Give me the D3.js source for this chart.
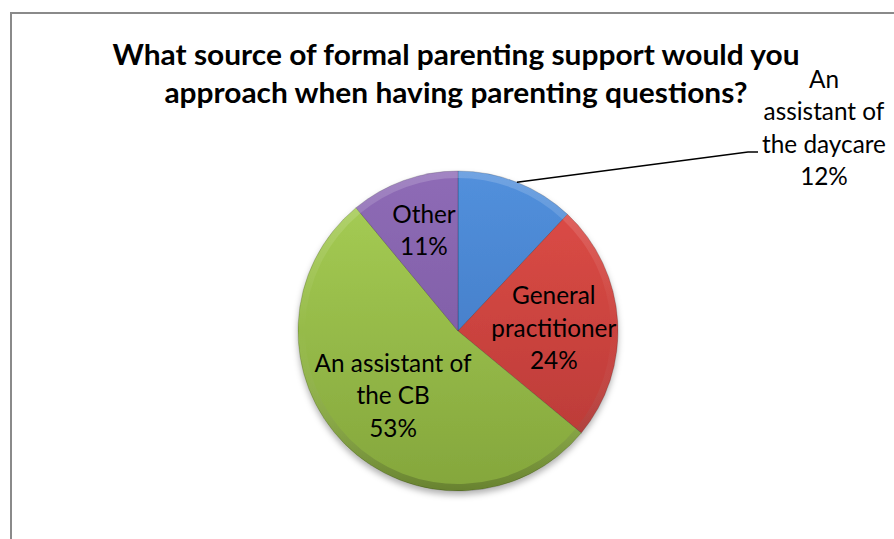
<!DOCTYPE html>
<html>
<head>
<meta charset="utf-8">
<script src="https://cdn.jsdelivr.net/npm/d3@7/dist/d3.min.js"></script>
<style>
  body { margin: 0; background: #fff; }
  svg { display: block; }
  text { font-family: Lato, "Open Sans", sans-serif; fill: #000; }
</style>
</head>
<body>
<div id="chart"></div>
<script>
const categories = ["An assistant of the daycare", "General practitioner", "An assistant of the CB", "Other"];
const values = [12, 24, 53, 11];
const labelLines = [
  ["An", "assistant of", "the daycare", "12%"],
  ["General", "practitioner", "24%"],
  ["An assistant of", "the CB", "53%"],
  ["Other", "11%"]
];
const titleLines = ["What source of formal parenting support would you", "approach when having parenting questions?"];

const topColors = ["#5290dc", "#e04d48", "#a8cf56", "#8e6bb6"];
const bottomColors = ["#3c72bc", "#b53935", "#84a63c", "#76559c"];

const width = 894, height = 539;
const cx = 458, cy = 331, r = 160;
const lineH = 32.5, capH = 17;

const svg = d3.select("#chart").append("svg")
  .attr("width", width)
  .attr("height", height);

const defs = svg.append("defs");

// squeeze a text selection so that refNode ends up `target` px wide
function condense(sel, size, refNode, target) {
  sel.style("font-size", size + "px");
  const k = target / refNode.getComputedTextLength();
  sel.each(function () {
    const w = this.getComputedTextLength();
    d3.select(this)
      .attr("textLength", w * k)
      .attr("lengthAdjust", "spacingAndGlyphs");
  });
}

// chart area border (runs off the right and bottom of the picture)
svg.append("path")
  .attr("d", `M11,${height + 5} V13 H${width + 5}`)
  .attr("fill", "none")
  .attr("stroke", "#8a8a8a")
  .attr("stroke-width", 2);

// title
const titleText = svg.append("g").selectAll("text")
  .data(titleLines)
  .enter().append("text")
  .attr("x", 456)
  .attr("y", (d, i) => 64.5 + i * 38)
  .attr("text-anchor", "middle")
  .style("font-weight", "bold")
  .text(d => d);
condense(titleText, 28, titleText.nodes()[0], 687);

// gradients, in the pie group's coordinates
values.forEach((v, i) => {
  const gr = defs.append("linearGradient")
    .attr("id", "grad" + i)
    .attr("gradientUnits", "userSpaceOnUse")
    .attr("x1", 0).attr("y1", -r)
    .attr("x2", 0).attr("y2", r);
  gr.append("stop").attr("offset", "0%").attr("stop-color", topColors[i]);
  gr.append("stop").attr("offset", "100%").attr("stop-color", bottomColors[i]);
});

const rim = defs.append("linearGradient")
  .attr("id", "rim")
  .attr("gradientUnits", "userSpaceOnUse")
  .attr("x1", 0).attr("y1", -r)
  .attr("x2", 0).attr("y2", r);
rim.append("stop").attr("offset", "0%").attr("stop-color", "#fff").attr("stop-opacity", 0.18);
rim.append("stop").attr("offset", "50%").attr("stop-color", "#fff").attr("stop-opacity", 0);
rim.append("stop").attr("offset", "100%").attr("stop-color", "#000").attr("stop-opacity", 0.22);

const shadow = defs.append("filter")
  .attr("id", "shadow")
  .attr("x", "-20%").attr("y", "-20%")
  .attr("width", "140%").attr("height", "140%");
shadow.append("feDropShadow")
  .attr("dx", 0).attr("dy", 4)
  .attr("stdDeviation", 3)
  .attr("flood-color", "#000")
  .attr("flood-opacity", 0.3);

const pie = d3.pie().sort(null).value(d => d);
const arcs = pie(values);
const arc = d3.arc().innerRadius(0).outerRadius(r);
const rimArc = d3.arc().innerRadius(r - 7).outerRadius(r);

const g = svg.append("g").attr("transform", `translate(${cx},${cy})`);

g.append("g").attr("filter", "url(#shadow)")
  .selectAll("path.slice")
  .data(arcs)
  .enter().append("path")
  .attr("class", "slice")
  .attr("d", arc)
  .attr("fill", (d, i) => `url(#grad${i})`)
  .attr("stroke", "rgba(0,0,0,0.18)")
  .attr("stroke-width", 1);

g.selectAll("path.rim")
  .data(arcs)
  .enter().append("path")
  .attr("class", "rim")
  .attr("d", rimArc)
  .attr("fill", "url(#rim)");

// inside labels
const labelR = r * 0.6;
const nudge = [null, [0, 3.5], [3, -3], [-1.5, -10]];

function addLines(sel, lines, x, yCenter) {
  const first = yCenter - (lines.length - 1) / 2 * lineH + capH / 2;
  lines.forEach((t, j) => {
    sel.append("text")
      .attr("class", "label")
      .attr("x", x)
      .attr("y", first + j * lineH)
      .attr("text-anchor", "middle")
      .text(t);
  });
}

const labels = g.append("g");
arcs.forEach((d, i) => {
  if (i === 0) return;
  const a = (d.startAngle + d.endAngle) / 2;
  const x = Math.sin(a) * labelR + nudge[i][0];
  const y = -Math.cos(a) * labelR + nudge[i][1];
  addLines(labels, labelLines[i], x, y);
});

// outside label with leader line for the first slice
const a0 = (arcs[0].startAngle + arcs[0].endAngle) / 2;
const p0 = [Math.sin(a0) * r, -Math.cos(a0) * r];
const labelX = 824 - cx, labelY = 128 - cy;
const elbow = [748 - cx, 152 - cy];
g.append("path")
  .attr("d", d3.line()([p0, elbow, [elbow[0] + 10, elbow[1]]]))
  .attr("fill", "none")
  .attr("stroke", "#000")
  .attr("stroke-width", 1.5);
addLines(labels, labelLines[0], labelX, labelY);

// labels: Calibri-like proportions, "An assistant of" is 157 px wide
const lab = labels.selectAll("text.label");
const refNode = lab.filter(function () { return this.textContent === "An assistant of"; }).node();
condense(lab, 25.5, refNode, 157);
</script>
</body>
</html>
